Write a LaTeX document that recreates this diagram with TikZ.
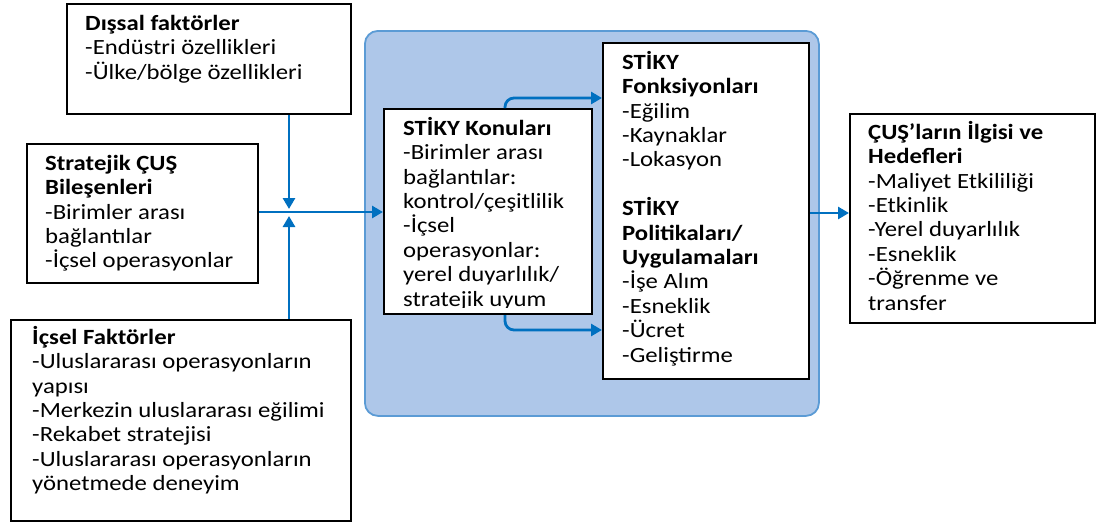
\documentclass[tikz,border=0pt]{standalone}
\usepackage{fontspec}
\setmainfont{Carlito}[FakeStretch=1.14]
\usetikzlibrary{arrows.meta}
\definecolor{arrblue}{RGB}{0,112,192}
\definecolor{bgfill}{RGB}{174,199,233}
\definecolor{bgdraw}{RGB}{91,155,213}
\newcommand{\fl}{\rule{0pt}{18pt}}
\begin{document}
\begin{tikzpicture}[x=1pt,y=-1pt,
 box/.style={draw=black, line width=2pt, fill=white, anchor=north west, inner sep=0pt},
 txt/.style={anchor=north west, inner sep=0pt, align=left, font=\fontsize{21.7}{24.4}\selectfont},
 arr/.style={draw=arrblue, line width=2.8pt, -{Triangle[length=11pt,width=12pt]}},
 bgbox/.style={draw=bgdraw, fill=bgfill, line width=1.8pt, rounded corners=13pt, anchor=north west, inner sep=0pt}
]
\useasboundingbox (0,0) rectangle (1098,525);
% container
\node[bgbox, minimum width=454pt, minimum height=385pt] (bg) at (364,30) {};
% boxes
\node[box, minimum width=284pt, minimum height=110pt] (dis) at (66,3) {};
\node[box, minimum width=231pt, minimum height=139pt] (str) at (26,143) {};
\node[box, minimum width=340pt, minimum height=201pt] (ic) at (10,319) {};
\node[box, minimum width=208pt, minimum height=205pt] (kon) at (383,108) {};
\node[box, minimum width=206pt, minimum height=336pt] (fon) at (602,42) {};
\node[box, minimum width=245pt, minimum height=209pt] (cus) at (849,113) {};
% texts
\node[txt] (tdis) at (85,12) {\fl\textbf{Dışsal faktörler}\\-Endüstri özellikleri\\-Ülke/bölge özellikleri};
\node[txt] (tstr) at (45,152) {\fl\textbf{Stratejik ÇUŞ}\\\textbf{Bileşenleri}\\-Birimler arası\\bağlantılar\\-İçsel operasyonlar};
\node[txt] (tic) at (32,326) {\fl\textbf{İçsel Faktörler}\\-Uluslararası operasyonların\\yapısı\\-Merkezin uluslararası eğilimi\\-Rekabet stratejisi\\-Uluslararası operasyonların\\yönetmede deneyim};
\begin{scope}
\clip (383,100) rectangle (591,307);
\node[txt] (tkon) at (403,117) {\fl\textbf{STİKY Konuları}\\-Birimler arası\\bağlantılar:\\kontrol/çeşitlilik\\-İçsel\\operasyonlar:\\yerel duyarlılık/\\stratejik uyum};
\end{scope}
\node[txt] (tfon) at (622,51) {\fl\textbf{STİKY}\\\textbf{Fonksiyonları}\\-Eğilim\\-Kaynaklar\\-Lokasyon\\[24.4pt]\textbf{STİKY}\\\textbf{Politikaları/}\\\textbf{Uygulamaları}\\-İşe Alım\\-Esneklik\\-Ücret\\-Geliştirme};
\node[txt] (tcus) at (868,121) {\fl\textbf{ÇUŞ’ların İlgisi ve}\\\textbf{Hedefleri}\\-Maliyet Etkililiği\\-Etkinlik\\-Yerel duyarlılık\\-Esneklik\\-Öğrenme ve\\transfer};
% connectors
\coordinate (jtop) at (289,209);
\coordinate (jbot) at (289,216);
\coordinate (jh) at (289,212);
\coordinate (kup) at (505,98);
\coordinate (kdn) at (505,330);
\coordinate (co) at (830,213);
\draw[arr] (dis.south -| jtop) -- (jtop);
\draw[arr] (ic.north -| jbot) -- (jbot);
\draw[arr] (str.east |- jh) -- (kon.west |- jh);
\draw[arr, rounded corners=9pt] (kon.north -| kup) |- (fon.west |- kup);
\draw[arr, rounded corners=9pt] (kon.south -| kdn) |- (fon.west |- kdn);
\draw[arr] (fon.east |- co) -- (cus.west |- co);
\end{tikzpicture}
\end{document}
